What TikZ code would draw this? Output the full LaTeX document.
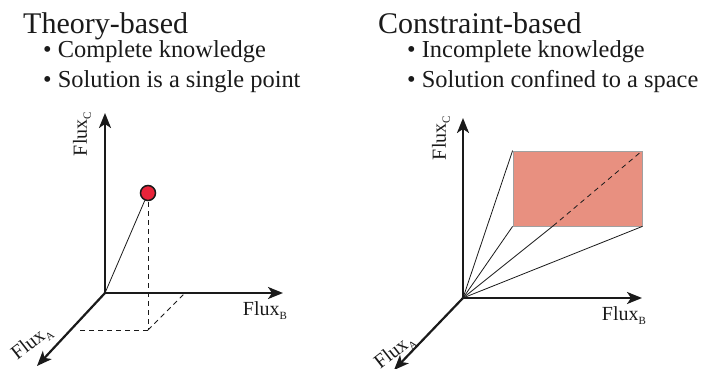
\documentclass[tikz,border=0pt]{standalone}
\usepackage{fontspec}
\setmainfont{Liberation Serif}
\usetikzlibrary{arrows.meta}
\definecolor{txt}{HTML}{1A1A1A}
\definecolor{dotred}{HTML}{E8243A}
\definecolor{boxfill}{HTML}{E89080}
\definecolor{boxedge}{HTML}{A0A0A0}
\newcommand{\fsub}[1]{\raisebox{-0.45ex}{\fontsize{11}{11}\selectfont #1}}
\tikzset{
  axis/.style={line width=2.2pt, draw=txt, -{Stealth[length=15pt,width=12pt,inset=4pt]}},
  thin/.style={line width=0.8pt, draw=txt},
  dashline/.style={line width=0.8pt, draw=txt, dash pattern=on 5pt off 4pt},
  title/.style={anchor=base west, inner sep=0pt, text=txt, font=\fontsize{30}{36}\selectfont},
  bullet/.style={anchor=base west, inner sep=0pt, text=txt, font=\fontsize{24.4}{29}\selectfont},
  flux/.style={inner sep=0pt, text=txt, font=\fontsize{20}{24}\selectfont},
}
\begin{document}
\begin{tikzpicture}[x=1pt,y=-1pt]
\useasboundingbox (0,0) rectangle (705,369);
% texts
\node[title] (t1) at (23,34) {Theory-based};
\node[bullet] (b11) at (43,58) {• Complete knowledge};
\node[bullet] (b12) at (43,88) {• Solution is a single point};
\node[title] (t2) at (378,34) {Constraint-based};
\node[bullet] (b21) at (407,58) {• Incomplete knowledge};
\node[bullet] (b22) at (407,88) {• Solution confined to a space};
% left diagram
\coordinate (O) at (105,293);
\coordinate (Ctip) at (105,113);
\coordinate (Btip) at (283,293);
\coordinate (Atip) at (37,366);
\coordinate (Pfoot) at (148,330);
\coordinate (Pa) at (80,330);
\coordinate (Pb) at (185,293);
\draw[dashline] (148,193) -- (Pfoot);
\draw[dashline] (Pfoot) -- (Pa);
\draw[dashline] (Pfoot) -- (Pb);
\node[circle, draw=txt, line width=1.5pt, fill=dotred, minimum size=15pt, inner sep=0pt] (P) at (148,193) {};
\draw[thin] (O) -- (P);
\draw[axis] (O) -- (Ctip);
\draw[axis] (O) -- (Btip);
\draw[axis] (O) -- (Atip);
\node[flux, rotate=90] (lc) at (82,134) {Flux\fsub{C}};
\node[flux] (lb) at (265,311) {Flux\fsub{B}};
\node[flux, rotate=38] (la) at (32,343) {Flux\fsub{A}};
% right diagram
\coordinate (O2) at (463,298);
\coordinate (C2tip) at (463,118);
\coordinate (B2tip) at (642,298);
\coordinate (A2tip) at (394,370);
\node[draw=boxedge, line width=0.8pt, fill=boxfill, minimum width=129pt, minimum height=75pt, inner sep=0pt] (R) at (577.5,188.5) {};
\coordinate (Rm) at (553,226);
\draw[thin] (O2) -- (R.north west);
\draw[thin] (O2) -- (R.south west);
\draw[thin] (O2) -- (Rm);
\draw[thin] (O2) -- (R.south east);
\draw[dashline] (Rm) -- (R.north east);
\draw[axis] (O2) -- (C2tip);
\draw[axis] (O2) -- (B2tip);
\draw[axis] (O2) -- (A2tip);
\node[flux, rotate=90] (rc) at (441,138) {Flux\fsub{C}};
\node[flux] (rb) at (624,316) {Flux\fsub{B}};
\node[flux, rotate=38] (ra) at (395,352) {Flux\fsub{A}};
\end{tikzpicture}
\end{document}
